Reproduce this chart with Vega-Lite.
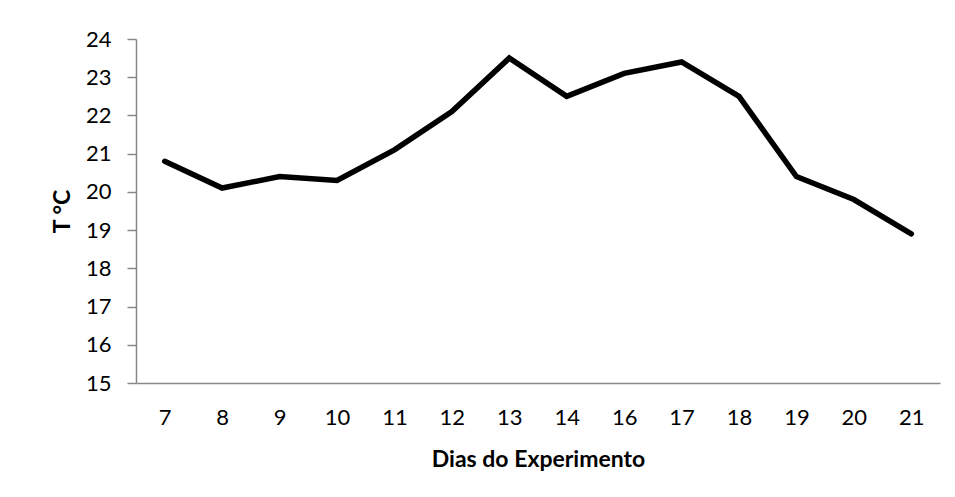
{
  "$schema": "https://vega.github.io/schema/vega-lite/v6.json",
  "width": 804,
  "height": 344,
  "autosize": {"type": "none"},
  "padding": {"left": 136, "top": 39, "right": 15, "bottom": 114},
  "background": "white",
  "config": {
    "font": "Lato",
    "view": {"stroke": null},
    "axis": {"labelFont": "Lato", "titleFont": "Lato", "labelColor": "#000", "titleColor": "#000", "domainColor": "#888", "tickColor": "#888", "grid": false, "labelFontSize": 22, "titleFontSize": 23, "titleFontWeight": "bold"}
  },
  "data": {
    "values": [
      {"dia": "7", "t": 20.8},
      {"dia": "8", "t": 20.1},
      {"dia": "9", "t": 20.4},
      {"dia": "10", "t": 20.3},
      {"dia": "11", "t": 21.1},
      {"dia": "12", "t": 22.1},
      {"dia": "13", "t": 23.5},
      {"dia": "14", "t": 22.5},
      {"dia": "16", "t": 23.1},
      {"dia": "17", "t": 23.4},
      {"dia": "18", "t": 22.5},
      {"dia": "19", "t": 20.4},
      {"dia": "20", "t": 19.8},
      {"dia": "21", "t": 18.9}
    ]
  },
  "mark": {"type": "line", "color": "#000", "strokeWidth": 5.5, "strokeJoin": "miter", "strokeCap": "round"},
  "encoding": {
    "x": {
      "field": "dia", "type": "ordinal", "sort": null,
      "scale": {"type": "point", "padding": 0.5},
      "axis": {"title": "Dias do Experimento", "labelAngle": 0, "ticks": false, "labelPadding": 24, "titlePadding": 20, "domainWidth": 1.5}
    },
    "y": {
      "field": "t", "type": "quantitative",
      "scale": {"domain": [15, 24], "nice": false, "zero": false},
      "axis": {"title": "T °C", "values": [15, 16, 17, 18, 19, 20, 21, 22, 23, 24], "tickSize": 9, "labelPadding": 16, "titlePadding": 11, "domainWidth": 1.5, "tickWidth": 1.5}
    }
  }
}
